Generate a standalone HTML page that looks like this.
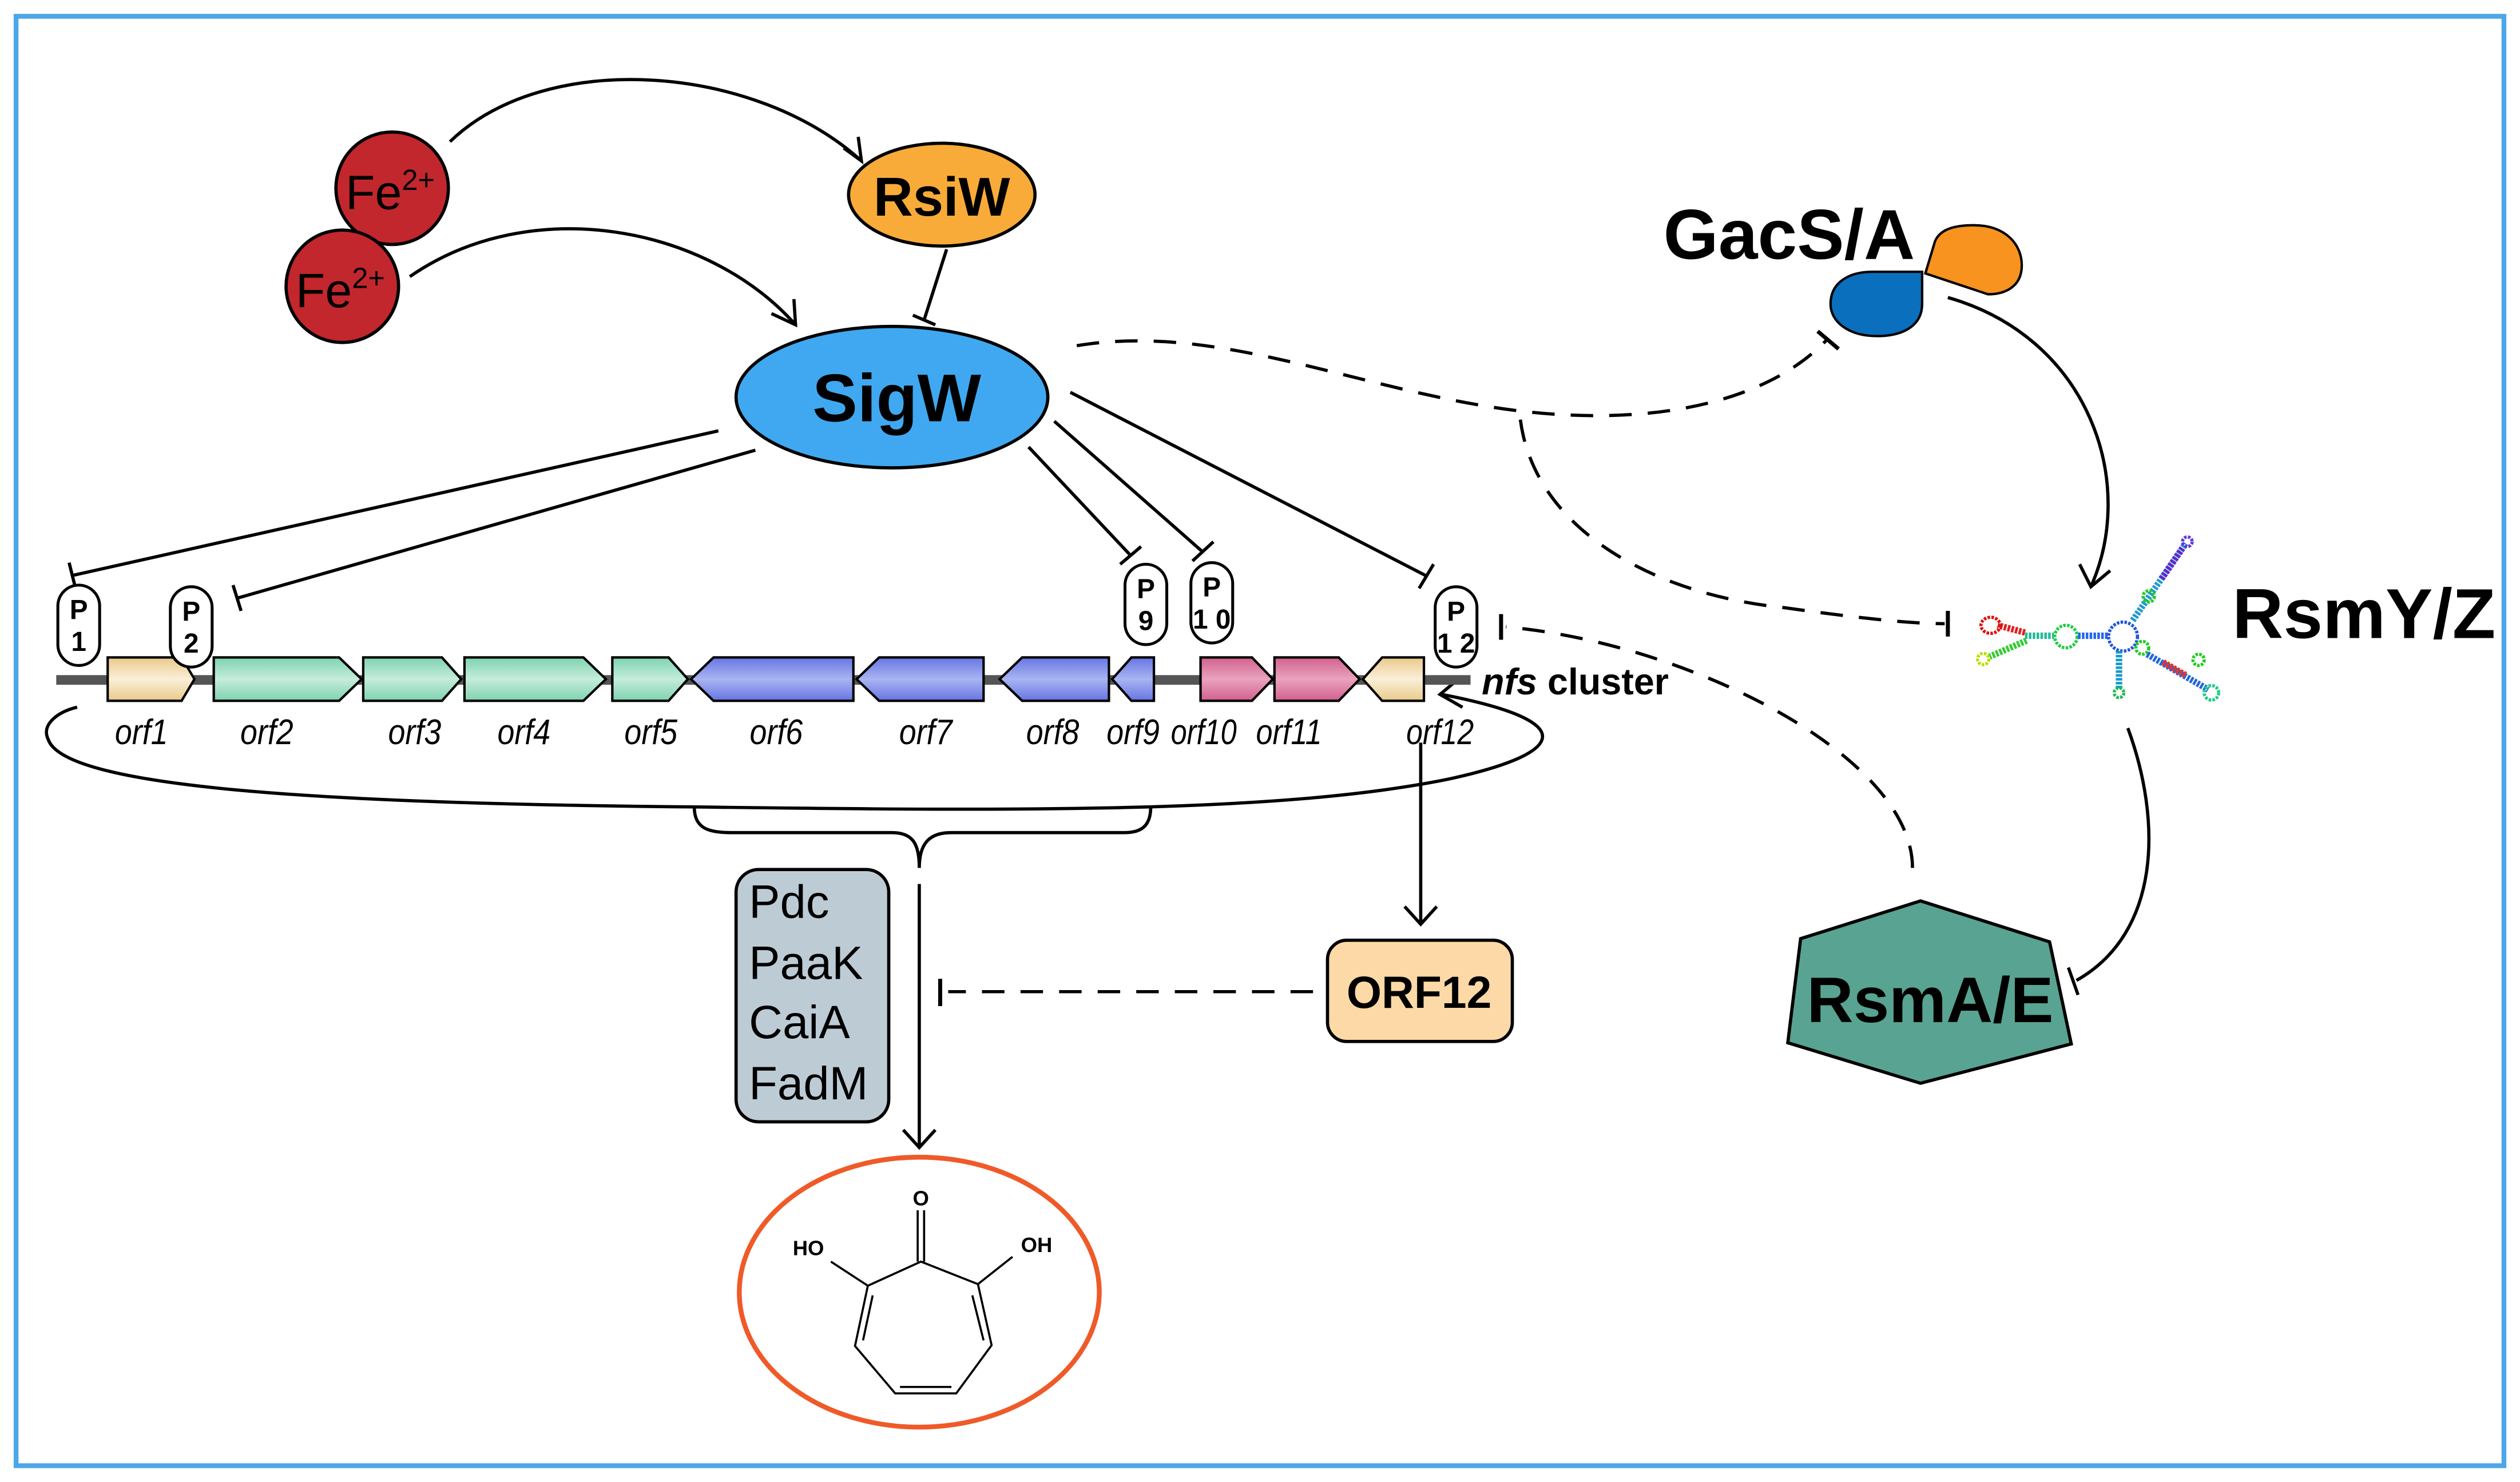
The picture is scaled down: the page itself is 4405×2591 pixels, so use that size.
<!DOCTYPE html>
<html><head><meta charset="utf-8"><style>
html,body{margin:0;padding:0;background:#fff;}
svg{display:block;}
text{font-family:"Liberation Sans",Arial,sans-serif;}
</style></head><body>
<svg width="4405" height="2591" viewBox="0 0 1568 922" xmlns="http://www.w3.org/2000/svg">
<defs>
<linearGradient id="gT" x1="0" y1="0" x2="0" y2="1"><stop offset="0" stop-color="#e9c98a"/><stop offset="0.5" stop-color="#fbefd8"/><stop offset="1" stop-color="#e9c98a"/></linearGradient>
<linearGradient id="gG" x1="0" y1="0" x2="0" y2="1"><stop offset="0" stop-color="#7ed3b0"/><stop offset="0.5" stop-color="#c5ecdc"/><stop offset="1" stop-color="#7ed3b0"/></linearGradient>
<linearGradient id="gB" x1="0" y1="0" x2="0" y2="1"><stop offset="0" stop-color="#6675e2"/><stop offset="0.5" stop-color="#a9b4f2"/><stop offset="1" stop-color="#6675e2"/></linearGradient>
<linearGradient id="gP" x1="0" y1="0" x2="0" y2="1"><stop offset="0" stop-color="#d2608e"/><stop offset="0.5" stop-color="#e9a3bd"/><stop offset="1" stop-color="#d2608e"/></linearGradient>
</defs>
<rect x="10" y="10" width="1548" height="902" fill="#fff" stroke="#4da6e8" stroke-width="3"/>

<g fill="none" stroke="#000" stroke-width="2">
<path d="M280 88 C340 30 470 40 536 100"/>
<path d="M525 92 L536 100 L534 85"/>
<path d="M255 172 C330 120 440 140 495 202"/>
<path d="M480 195 L495 202 L494 186"/>
<path d="M589 155 L575 199"/><path d="M568 196 L582 202"/>
<path d="M447 268 L45 358"/><path d="M43 350 L47 366"/>
<path d="M470 280 L148 372"/><path d="M145 364 L150 380"/>
<path d="M640 278 L703 345"/><path d="M697 351 L710 340"/>
<path d="M656 262 L748 343"/><path d="M742 349 L755 337"/>
<path d="M666 244 L887 358"/><path d="M883 366 L892 351"/>
<path d="M897 432 C990 450 970 470 900 485 C800 505 650 505 430 502 C200 500 40 490 30 460 C25 450 38 442 48 440"/>
<path d="M908 422 L896 432 L910 440"/>
<path d="M432 502 C432 515 440 518 455 518 L555 518 C568 518 572 525 572 540 C572 525 578 518 592 518 L700 518 C712 518 716 512 716 502"/>
<path d="M572 550 L572 714"/><path d="M562 703 L572 714 L582 703"/>
<path d="M884 462 L884 575"/><path d="M874 564 L884 575 L894 564"/>
<path d="M1212 185 C1300 210 1330 300 1301 365"/><path d="M1294 351 L1301 365 L1313 355"/>
<path d="M1324 453 C1345 510 1345 580 1292 610"/><path d="M1287 602 L1293 619"/>
</g>
<g fill="none" stroke="#000" stroke-width="2" stroke-dasharray="14,10">
<path d="M817 617 L590 617"/>
<path d="M670 215 C760 200 850 245 949 256 C1030 265 1100 250 1137 211"/>
<path d="M946 261 C955 330 1030 370 1110 378 C1160 385 1190 388 1210 388"/>
<path d="M1190 540 C1190 470 1050 400 937 390"/>
</g>
<g stroke="#000" stroke-width="2.5">
<path d="M585 609 L585 626"/>
<path d="M1131 206 L1144 217"/>
<path d="M1212 380 L1212 396"/>
<path d="M934 382 L934 398"/>
</g>

<ellipse cx="244" cy="117" rx="35" ry="35" fill="#c1272d" stroke="#000" stroke-width="2"/>
<text x="215" y="130" font-size="30">Fe<tspan font-size="18" dy="-12">2+</tspan></text>
<ellipse cx="213" cy="178" rx="35" ry="35" fill="#c1272d" stroke="#000" stroke-width="2"/>
<text x="184" y="191" font-size="30">Fe<tspan font-size="18" dy="-12">2+</tspan></text>
<ellipse cx="586" cy="121" rx="58" ry="32" fill="#f8ab38" stroke="#000" stroke-width="2"/>
<text x="586" y="134" font-size="34" font-weight="bold" text-anchor="middle">RsiW</text>
<ellipse cx="555" cy="247" rx="97" ry="44" fill="#40a8f0" stroke="#000" stroke-width="2"/>
<text x="558" y="262" font-size="42" font-weight="bold" text-anchor="middle">SigW</text>

<rect x="35" y="420" width="880" height="6" fill="#555"/>
<g stroke="#000" stroke-width="1.5">
<path d="M67 409 H113 L121 422.5 L113 436 H67 Z" fill="url(#gT)"/>
<path d="M133 409 H211 L225 422.5 L211 436 H133 Z" fill="url(#gG)"/>
<path d="M226 409 H275 L287 422.5 L275 436 H226 Z" fill="url(#gG)"/>
<path d="M289 409 H363 L377 422.5 L363 436 H289 Z" fill="url(#gG)"/>
<path d="M381 409 H416 L428 422.5 L416 436 H381 Z" fill="url(#gG)"/>
<path d="M531 409 H444 L430 422.5 L444 436 H531 Z" fill="url(#gB)"/>
<path d="M612 409 H547 L533 422.5 L547 436 H612 Z" fill="url(#gB)"/>
<path d="M690 409 H636 L622 422.5 L636 436 H690 Z" fill="url(#gB)"/>
<path d="M718 409 H704 L692 422.5 L704 436 H718 Z" fill="url(#gB)"/>
<path d="M747 409 H779 L792 422.5 L779 436 H747 Z" fill="url(#gP)"/>
<path d="M793 409 H833 L846 422.5 L833 436 H793 Z" fill="url(#gP)"/>
<path d="M886 409 H860 L848 422.5 L860 436 H886 Z" fill="url(#gT)"/>
</g>
<g fill="#fff" stroke="#000" stroke-width="1.8">
<rect x="36" y="364" width="26" height="50" rx="13"/>
<rect x="106" y="365" width="26" height="50" rx="13"/>
<rect x="700" y="351" width="26" height="50" rx="13"/>
<rect x="741" y="350" width="26" height="50" rx="13"/>
<rect x="893" y="365" width="26" height="50" rx="13"/>
</g>
<g font-size="17" font-weight="bold" text-anchor="middle">
<text x="49" y="385">P</text><text x="49" y="405">1</text>
<text x="119" y="386">P</text><text x="119" y="406">2</text>
<text x="713" y="372">P</text><text x="713" y="392">9</text>
<text x="754" y="371">P</text><text x="754" y="391">1 0</text>
<text x="906" y="386">P</text><text x="906" y="406">1 2</text>
</g>
<g font-size="22" font-style="italic" text-anchor="middle">
<text x="88" y="463" textLength="33" lengthAdjust="spacingAndGlyphs">orf1</text>
<text x="166" y="463" textLength="33" lengthAdjust="spacingAndGlyphs">orf2</text>
<text x="258" y="463" textLength="33" lengthAdjust="spacingAndGlyphs">orf3</text>
<text x="326" y="463" textLength="33" lengthAdjust="spacingAndGlyphs">orf4</text>
<text x="405" y="463" textLength="33" lengthAdjust="spacingAndGlyphs">orf5</text>
<text x="483" y="463" textLength="33" lengthAdjust="spacingAndGlyphs">orf6</text>
<text x="576" y="463" textLength="33" lengthAdjust="spacingAndGlyphs">orf7</text>
<text x="655" y="463" textLength="33" lengthAdjust="spacingAndGlyphs">orf8</text>
<text x="705" y="463" textLength="33" lengthAdjust="spacingAndGlyphs">orf9</text>
<text x="749" y="463" textLength="41" lengthAdjust="spacingAndGlyphs">orf10</text>
<text x="802" y="463" textLength="41" lengthAdjust="spacingAndGlyphs">orf11</text>
<text x="896" y="463" textLength="42" lengthAdjust="spacingAndGlyphs">orf12</text>
</g>
<text x="922" y="432" font-size="23" font-weight="bold"><tspan font-style="italic">nfs</tspan> cluster</text>

<rect x="458" y="541" width="95" height="157" rx="14" fill="#bdcbd5" stroke="#000" stroke-width="2"/>
<g font-size="29"><text x="466" y="571">Pdc</text><text x="466" y="609">PaaK</text><text x="466" y="646">CaiA</text><text x="466" y="684">FadM</text></g>
<rect x="826" y="585" width="115" height="63" rx="12" fill="#fcd9a6" stroke="#000" stroke-width="2"/>
<text x="883" y="627" font-size="28" font-weight="bold" text-anchor="middle">ORF12</text>

<ellipse cx="572" cy="804" rx="112" ry="84" fill="none" stroke="#ef5a28" stroke-width="3"/>
<g fill="none" stroke="#000" stroke-width="1.3">
<path d="M573 785 L608.5 799 L617 837 L595 867 L557 867 L532 837.5 L540 800 Z"/>
<path d="M571 753 L571 785 M575 753 L575 785"/>
<path d="M605 806 L612 834"/><path d="M543 806 L537 834"/><path d="M560 863 L592 863"/>
<path d="M608.5 799 L630 782"/><path d="M540 800 L517 785"/>
</g>
<g font-size="13" font-weight="bold" text-anchor="middle">
<text x="573" y="750">O</text><text x="503" y="781">HO</text><text x="645" y="779">OH</text>
</g>

<text x="1035" y="161" font-size="44" font-weight="bold">GacS/A</text>
<path d="M1198 170 L1204 150 C1207 143 1215 140 1228 140 C1248 140 1258 152 1258 165 C1258 178 1248 183 1237 183 Z" fill="#f7931e" stroke="#000" stroke-width="1.5"/>
<path d="M1196 169 L1196 189 C1196 202 1185 209 1168 209 C1150 209 1139 200 1139 189 C1139 176 1150 169 1165 169 Z" fill="#0a6fbd" stroke="#000" stroke-width="1.5"/>

<g fill="none" stroke-width="2" stroke-dasharray="1.6,0.8">
<path d="M1260 393.5 L1243 389" stroke="#e02020" stroke-width="4"/>
<ellipse cx="1238.6" cy="389" rx="6" ry="5" stroke="#e01010"/>
<path d="M1261 398.5 L1238 408.5" stroke="#33cc33" stroke-width="4"/>
<circle cx="1234" cy="410" r="3.5" stroke="#bbdd00"/>
<path d="M1260 395.5 L1278 395.5" stroke="#22bb99" stroke-width="4"/>
<ellipse cx="1285.5" cy="396" rx="7" ry="7" stroke="#22cc44"/>
<path d="M1293 395.5 L1312 395.5" stroke="#2266ee" stroke-width="4"/>
<ellipse cx="1321" cy="396" rx="9" ry="9" stroke="#2255dd"/>
<path d="M1327 386 L1360 338" stroke="#2299cc" stroke-width="4"/>
<path d="M1345 360 L1358 341" stroke="#6622cc" stroke-width="4"/>
<circle cx="1361" cy="337" r="3" stroke="#6633dd"/>
<circle cx="1337" cy="371" r="3.5" stroke="#22cc22"/>
<path d="M1318.5 405 L1318.5 429" stroke="#1199cc" stroke-width="4"/>
<circle cx="1318.5" cy="431" r="3" stroke="#22bb55"/>
<circle cx="1333" cy="403" r="4" stroke="#22cc22"/>
<path d="M1336 407 L1374 429" stroke="#2266dd" stroke-width="4"/>
<path d="M1346 412 L1360 420" stroke="#ee3322" stroke-width="4"/>
<circle cx="1368" cy="410.5" r="3.5" stroke="#22cc22"/>
<circle cx="1376" cy="431" r="4.5" stroke="#22cc88"/>
</g>
<text x="1389" y="397" font-size="44" font-weight="bold">RsmY/Z</text>

<path d="M1195 560.5 L1275.3 586 L1288.8 649.5 L1195 674 L1112.4 648.8 L1120.4 584 Z" fill="#58a391" stroke="#000" stroke-width="2"/>
<text x="1201" y="636" font-size="40" font-weight="bold" text-anchor="middle">RsmA/E</text>
</svg>
</body></html>
